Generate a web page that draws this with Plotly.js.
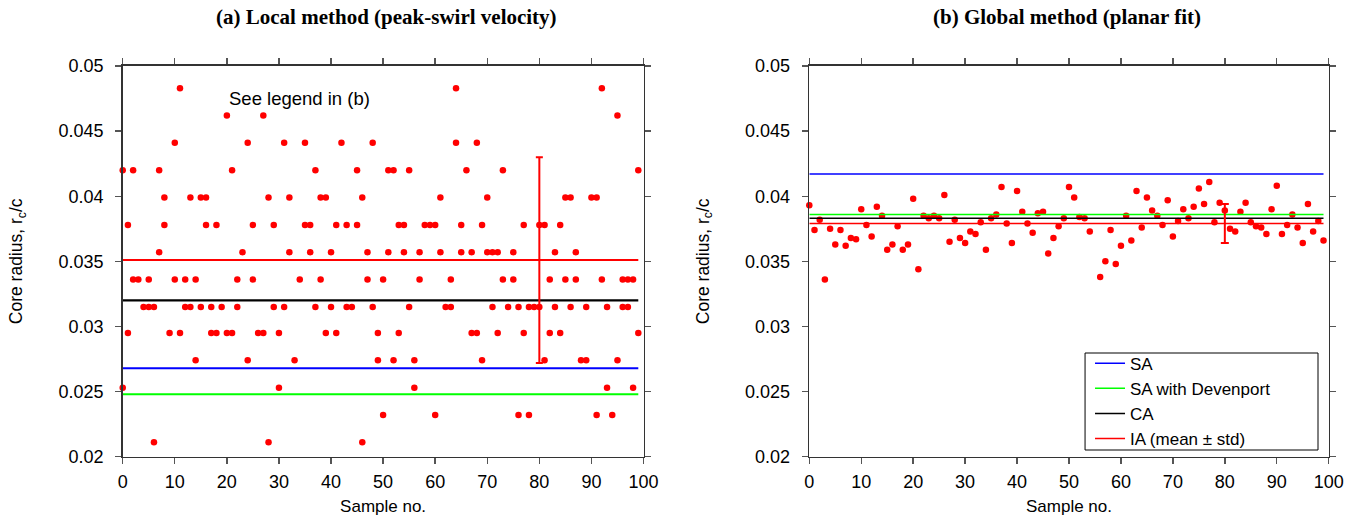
<!DOCTYPE html>
<html><head><meta charset="utf-8">
<script src="https://cdn.plot.ly/plotly-3.0.1.min.js"></script>
<style>html,body{margin:0;padding:0;background:#fff}#chart{width:1370px;height:526px}</style>
</head><body><div id="chart"></div>
<script>
// ---- Panel (a): local method, core radius per sample (two estimates for most samples)
const sampleA = [
 0,0, 1,1, 2,2, 3, 4, 5,5, 6,6, 7,7, 8,8, 9, 10,10, 11,11, 12,12, 13,13, 14,14, 15,15, 16,16, 17,17, 18,18, 19,
 20,20, 21,21, 22,22, 23, 24,24, 25,25, 26, 27,27, 28,28, 29,29, 30,30, 31,31, 32,32, 33, 34, 35,35, 36,36, 37,37,
 38,38, 39,39, 40,40, 41,41, 42, 43,43, 44, 45,45, 46,46, 47,47, 48,48, 49,49, 50,50, 51,51, 52,52, 53,53, 54,54,
 55,55, 56,56, 57,57, 58, 59, 60,60, 61,61, 62, 63,63, 64,64, 65,65, 66, 67,67, 68,68, 69,69, 70,70, 71,71, 72,72,
 73,73, 74, 75,75, 76,76, 77,77, 78,78, 79, 80,80, 81,81, 82,82, 83,83, 84,84, 85,85, 86,86, 87,87, 88, 89,89, 90,
 91,91, 92,92, 93,93, 94, 95,95, 96,96, 97,97, 98,98, 99,99
];
const radiusA = [
 0.0420,0.0253, 0.0378,0.0295, 0.0420,0.0336, 0.0336, 0.0315, 0.0336,0.0315, 0.0315,0.0211, 0.0420,0.0357, 0.0399,0.0378, 0.0295, 0.0441,0.0336,
 0.0483,0.0295, 0.0336,0.0315, 0.0399,0.0315, 0.0336,0.0274, 0.0399,0.0315, 0.0399,0.0378, 0.0315,0.0295, 0.0378,0.0295, 0.0315,
 0.0462,0.0295, 0.0420,0.0295, 0.0336,0.0315, 0.0357, 0.0441,0.0274, 0.0378,0.0336, 0.0295, 0.0462,0.0295, 0.0399,0.0211, 0.0378,0.0315,
 0.0295,0.0253, 0.0441,0.0315, 0.0399,0.0357, 0.0274, 0.0336, 0.0441,0.0378, 0.0378,0.0357, 0.0420,0.0315,
 0.0399,0.0336, 0.0399,0.0295, 0.0357,0.0315, 0.0378,0.0295, 0.0441, 0.0378,0.0315, 0.0315, 0.0420,0.0378, 0.0399,0.0211, 0.0357,0.0336,
 0.0441,0.0315, 0.0295,0.0274, 0.0336,0.0232, 0.0420,0.0357, 0.0420,0.0274, 0.0378,0.0295, 0.0378,0.0357,
 0.0420,0.0315, 0.0274,0.0253, 0.0357,0.0336, 0.0378, 0.0378, 0.0378,0.0232, 0.0399,0.0357, 0.0315, 0.0336,0.0315, 0.0483,0.0441,
 0.0378,0.0357, 0.0420, 0.0357,0.0295, 0.0441,0.0295, 0.0378,0.0274, 0.0399,0.0357, 0.0357,0.0315, 0.0357,0.0295,
 0.0420,0.0336, 0.0315, 0.0357,0.0336, 0.0315,0.0232, 0.0378,0.0295, 0.0315,0.0232, 0.0315, 0.0378,0.0315, 0.0378,0.0274,
 0.0336,0.0295, 0.0357,0.0315, 0.0378,0.0295, 0.0399,0.0336, 0.0399,0.0315, 0.0357,0.0336, 0.0274, 0.0315,0.0274, 0.0399,
 0.0399,0.0232, 0.0483,0.0336, 0.0315,0.0253, 0.0232, 0.0462,0.0274, 0.0336,0.0315, 0.0336,0.0315, 0.0336,0.0253, 0.0420,0.0295
];
// reference levels in panel (a)
const saA = 0.0268, saDevA = 0.0248, caA = 0.0320, iaMeanA = 0.0351, iaStdA = 0.0079;

// ---- Panel (b): global method (planar fit)
const sampleB = [
 0,1,2,3,4,5,6,7,8,9,10,11,12,13,14,15,16,17,18,19,20,21,22,23,24,25,26,27,28,29,30,31,32,33,34,35,36,37,38,39,
 40,41,42,43,44,45,46,47,48,49,50,51,52,53,54,56,57,58,59,60,61,62,63,64,65,66,67,68,69,70,71,72,73,74,75,76,77,78,79,
 80,81,82,83,84,85,86,87,88,89,90,91,92,93,94,95,96,97,98,99
];
const radiusB = [
 0.0393,0.0374,0.0382,0.0336,0.0375,0.0363,0.0374,0.0362,0.0368,0.0367,0.0390,0.0378,0.0369,0.0392,0.0385,0.0359,0.0363,0.0377,0.0359,0.0363,
 0.0398,0.0344,0.0385,0.0383,0.0385,0.0383,0.0401,0.0365,0.0382,0.0368,0.0364,0.0373,0.0371,0.0380,0.0359,0.0383,0.0386,0.0407,0.0379,0.0364,
 0.0404,0.0388,0.0379,0.0372,0.0387,0.0388,0.0356,0.0368,0.0377,0.0383,0.0407,0.0399,0.0384,0.0383,0.0373,0.0338,0.0350,0.0374,0.0348,0.0362,
 0.0385,0.0366,0.0404,0.0376,0.0399,0.0389,0.0385,0.0378,0.0397,0.0369,0.0381,0.0390,0.0383,0.0392,0.0406,0.0394,0.0411,0.0380,0.0395,
 0.0389,0.0375,0.0373,0.0388,0.0395,0.0380,0.0377,0.0376,0.0371,0.0390,0.0408,0.0371,0.0378,0.0386,0.0376,0.0364,0.0394,0.0373,0.0381,0.0366
];
const saB = 0.0417, saDevB = 0.0386, caB = 0.0383, iaMeanB = 0.0379, iaStdB = 0.0015;

const lineSpan = [0, 99];
const errX = [80];
const legendNames = ['SA', 'SA with Devenport', 'CA', 'IA (mean \u00b1 std)'];
const colors = {sa:'#0000ff', dev:'#00ff00', ca:'#000000', ia:'#ff0000'};

function hline(v, color, w, xa, ya, name, show, grp) {
  return {x: lineSpan, y: [v, v], mode: 'lines', xaxis: xa, yaxis: ya, name: name,
    showlegend: show, legendgroup: grp, line: {color: color, width: w}, hoverinfo: 'skip'};
}

const traces = [
  {x: sampleA, y: radiusA, mode: 'markers', xaxis: 'x', yaxis: 'y', showlegend: false,
   marker: {color: '#ff0000', size: 6.5}, cliponaxis: false},
  hline(saA, colors.sa, 2, 'x', 'y', legendNames[0], false, 'g1'),
  hline(saDevA, colors.dev, 2, 'x', 'y', legendNames[1], false, 'g2'),
  hline(caA, colors.ca, 2.2, 'x', 'y', legendNames[2], false, 'g3'),
  hline(iaMeanA, colors.ia, 2, 'x', 'y', legendNames[3], false, 'g4'),
  {x: errX, y: [iaMeanA], mode: 'lines', xaxis: 'x', yaxis: 'y', showlegend: false, hoverinfo: 'skip',
   error_y: {type: 'data', array: [iaStdA], visible: true, color: '#ff0000', thickness: 2, width: 3.5}},

  {x: sampleB, y: radiusB, mode: 'markers', xaxis: 'x2', yaxis: 'y2', showlegend: false,
   marker: {color: '#ff0000', size: 6.5}, cliponaxis: false},
  hline(saB, colors.sa, 1.5, 'x2', 'y2', legendNames[0], true, 'g1'),
  hline(saDevB, colors.dev, 1.5, 'x2', 'y2', legendNames[1], true, 'g2'),
  hline(caB, colors.ca, 1.5, 'x2', 'y2', legendNames[2], true, 'g3'),
  hline(iaMeanB, colors.ia, 1.5, 'x2', 'y2', legendNames[3], true, 'g4'),
  {x: errX, y: [iaMeanB], mode: 'lines', xaxis: 'x2', yaxis: 'y2', showlegend: false, hoverinfo: 'skip',
   error_y: {type: 'data', array: [iaStdB], visible: true, color: '#ff0000', thickness: 2, width: 4}}
];

const sans = 'Liberation Sans, Arial, Helvetica, sans-serif';
const serif = 'Liberation Serif, Times New Roman, serif';
function xAxis(domain, anchor) {
  return {domain: domain, anchor: anchor, range: [0, 100], dtick: 10, tick0: 0,
    showline: true, linecolor: '#333', linewidth: 1.6, mirror: 'ticks',
    ticks: 'outside', ticklen: 6, tickwidth: 1.4, tickcolor: '#555',
    showgrid: false, zeroline: false, ticklabelstandoff: 2,
    tickfont: {family: sans, size: 18, color: '#000'},
    title: {text: 'Sample no.', font: {family: sans, size: 17, color: '#000'}, standoff: 9}};
}
function yAxis(domain, anchor) {
  return {domain: domain, anchor: anchor, range: [0.02, 0.05], dtick: 0.005, tick0: 0.02,
    showline: true, linecolor: '#333', linewidth: 1.6, mirror: 'ticks',
    ticks: 'outside', ticklen: 6, tickwidth: 1.4, tickcolor: '#555',
    showgrid: false, zeroline: false, ticklabelstandoff: 8,
    tickfont: {family: sans, size: 18, color: '#000'},
    title: {text: 'Core radius, r<sub>c</sub>/c', font: {family: sans, size: 17.5, color: '#000'}, standoff: 31}};
}

const layout = {
  width: 1370, height: 526,
  margin: {l: 100, r: 30, t: 50, b: 60},
  paper_bgcolor: '#fff', plot_bgcolor: '#fff',
  showlegend: true,
  xaxis: xAxis([0.01831, 0.43831], 'y'),
  yaxis: yAxis([0.02236, 0.96154], 'x'),
  xaxis2: xAxis([0.57202, 0.99089], 'y2'),
  yaxis2: yAxis([0.02236, 0.96154], 'x2'),
  legend: {x: 0.7984, y: 0.2892, xanchor: 'left', yanchor: 'top', bgcolor: 'rgba(0,0,0,0)',
    borderwidth: 0, font: {family: sans, size: 17, color: '#000'},
    traceorder: 'grouped', tracegroupgap: 0},
  shapes: [
    {type: 'rect', xref: 'paper', yref: 'paper', x0: 0.7944, x1: 0.98226, y0: 0.03846, y1: 0.27163,
     line: {color: '#000', width: 1}, fillcolor: '#fff', layer: 'above'}
  ],
  annotations: [
    {text: '<b>(a) Local method (peak-swirl velocity)</b>', xref: 'paper', yref: 'paper',
     x: 0.2312, y: 1.0793, xanchor: 'center', yanchor: 'middle', showarrow: false,
     font: {family: serif, size: 21, color: '#000'}},
    {text: '<b>(b) Global method (planar fit)</b>', xref: 'paper', yref: 'paper',
     x: 0.7798, y: 1.0793, xanchor: 'center', yanchor: 'middle', showarrow: false,
     font: {family: serif, size: 21, color: '#000'}},
    {text: 'See legend in (b)', xref: 'x', yref: 'y', x: 34, y: 0.0475,
     xanchor: 'center', yanchor: 'middle', showarrow: false,
     font: {family: sans, size: 18.5, color: '#000'}}
  ]
};

Plotly.newPlot('chart', traces, layout, {staticPlot: true, displayModeBar: false});
</script></body></html>
